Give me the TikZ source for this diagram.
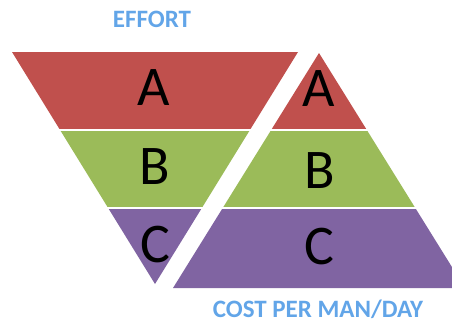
\documentclass[tikz,border=0pt]{standalone}
\usepackage{fontspec}
\setmainfont{Carlito}
\usepackage{tikz}

\definecolor{bandA}{RGB}{192,80,77}
\definecolor{bandB}{RGB}{155,187,89}
\definecolor{bandC}{RGB}{128,100,162}
\definecolor{titleblue}{RGB}{98,165,232}

\begin{document}
\begin{tikzpicture}[x=1pt,y=-1pt]
			\tikzstyle{letter} = [font=\fontsize{56}{56}\selectfont, text=black, inner sep=0pt]
			\tikzstyle{caption} = [font=\fontsize{25}{25}\selectfont\bfseries, text=titleblue, inner sep=0pt]
			\useasboundingbox (0,0) rectangle (452,325);
			\clip (0,0) rectangle (452,325);
			% effort (upside down)
			\coordinate (effL) at (12,52);
			\coordinate (effR) at (298,52);
			\coordinate (effTip) at (155,284);
			\begin{scope}
				\clip (effL) -- (effR) -- (effTip) -- cycle;
				\fill[bandA] (0,52) rectangle (452,128.5);
				\fill[bandB] (0,130.5) rectangle (452,206.5);
				\fill[bandC] (0,208.5) rectangle (452,290);
			\end{scope}
			% cost per man/day
			\coordinate (costTip) at (319,53);
			\coordinate (costL) at (173,288);
			\coordinate (costR) at (465,288);
			\begin{scope}
				\clip (costTip) -- (costR) -- (costL) -- cycle;
				\fill[bandA] (0,52) rectangle (470,128.5);
				\fill[bandB] (0,130.5) rectangle (470,206.5);
				\fill[bandC] (0,208.5) rectangle (470,290);
			\end{scope}
			% letters
			\node[letter] (effA) at (154,88) {A};
			\node[letter] (effB) at (155,167) {B};
			\node[letter] (effC) at (155,245) {C};
			\node[letter] (costA) at (319,89) {A};
			\node[letter] (costB) at (320,171) {B};
			\node[letter] (costC) at (319,247) {C};
			% titles
			\node[caption] (effort) at (152,19) {EFFORT};
			\node[caption] (cost) at (318,309) {COST PER MAN/DAY};
		\end{tikzpicture}
\end{document}
